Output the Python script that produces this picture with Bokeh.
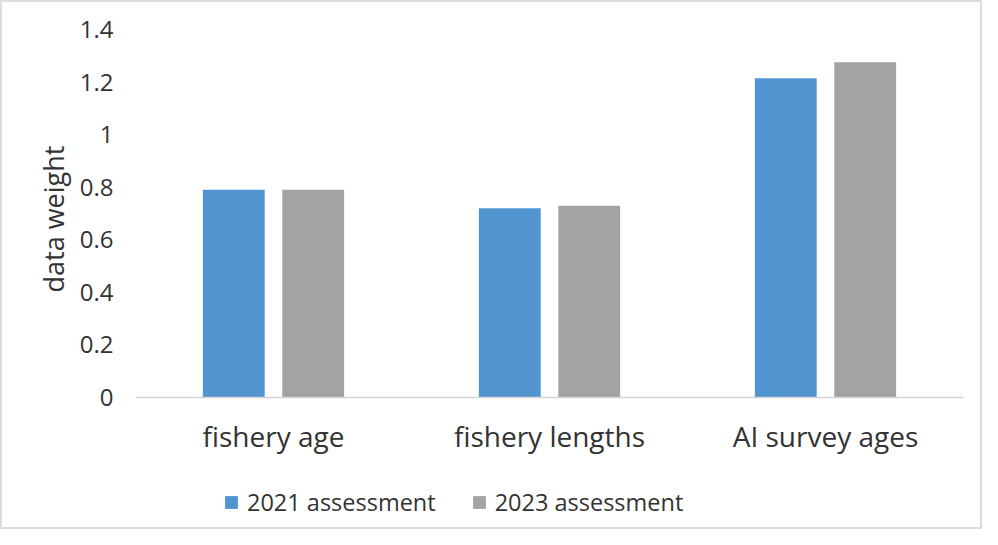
from bokeh.plotting import figure
from bokeh.models import ColumnDataSource, FactorRange, Range1d, FixedTicker, Legend, LegendItem, Title
from bokeh.transform import dodge
from bokeh.embed import file_html
from bokeh.resources import INLINE

categories = ["fishery age", "fishery lengths", "AI survey ages"]
series_names = ["2021 assessment", "2023 assessment"]
w2021 = [0.79, 0.72, 1.215]
w2023 = [0.79, 0.73, 1.275]
y_ticks = [0, 0.2, 0.4, 0.6, 0.8, 1.0, 1.2, 1.4]
y_tick_labels = ["0", "0.2", "0.4", "0.6", "0.8", "1", "1.2", "1.4"]
y_title = "data weight"

FONT = "Open Sans"
TEXT = "#333333"
BLUE = "#5095D0"
GRAY = "#A3A3A3"

src = ColumnDataSource(dict(cat=categories, a=w2021, b=w2023))

# frame extends below zero so the legend fits inside it; the x axis sits at y=0
p = figure(width=982, height=529,
           x_range=FactorRange(*categories, range_padding=0),
           y_range=Range1d(-0.502, 1.4),
           output_backend="svg", toolbar_location=None,
           min_border_left=133, min_border_right=21,
           min_border_top=27, min_border_bottom=2)

r1 = p.vbar(x=dodge("cat", -0.1439, range=p.x_range), top="a", width=0.224,
            source=src, fill_color=BLUE, line_color=None)
r2 = p.vbar(x=dodge("cat", 0.1439, range=p.x_range), top="b", width=0.224,
            source=src, fill_color=GRAY, line_color=None)

p.xgrid.visible = False
p.ygrid.visible = False
p.outline_line_color = None
p.background_fill_color = "white"
p.border_fill_color = "white"
p.styles = {"border": "2px solid #dcdcdc", "box-sizing": "border-box"}

# y axis
p.yaxis.ticker = FixedTicker(ticks=y_ticks)
p.yaxis.bounds = (0, 1.4)
p.yaxis.major_label_overrides = {t: l for t, l in zip(y_ticks, y_tick_labels)}
p.yaxis.axis_line_color = None
p.yaxis.major_tick_line_color = None
p.yaxis.minor_tick_line_color = None
p.yaxis.major_tick_out = 0
p.yaxis.major_label_standoff = 22
p.yaxis.major_label_text_font = FONT
p.yaxis.major_label_text_font_size = "24px"
p.yaxis.major_label_text_color = TEXT

# y axis title, placed alongside the 0..1.4 span
p.add_layout(Title(text=y_title, align="left", offset=237, standoff=10,
                   text_font=FONT, text_font_size="27px",
                   text_font_style="normal", text_color=TEXT), "left")

# x axis, drawn at y = 0
p.xaxis.fixed_location = 0
p.xaxis.axis_line_color = "#d4d4d4"
p.xaxis.axis_line_width = 1.5
p.xaxis.major_tick_line_color = None
p.xaxis.minor_tick_line_color = None
p.xaxis.major_tick_out = 0
p.xaxis.major_label_standoff = 19
p.xaxis.major_label_text_font = FONT
p.xaxis.major_label_text_font_size = "28px"
p.xaxis.major_label_text_color = TEXT

legend = Legend(items=[LegendItem(label=series_names[0], renderers=[r1]),
                       LegendItem(label=series_names[1], renderers=[r2])],
                orientation="horizontal", location=(88, 11),
                padding=0, margin=0, spacing=35, label_standoff=8,
                glyph_width=16, glyph_height=16,
                border_line_color=None, background_fill_alpha=0,
                label_text_font=FONT, label_text_font_size="23.5px",
                label_text_color=TEXT)
p.add_layout(legend)

open("out.html", "w").write(file_html(p, INLINE))
